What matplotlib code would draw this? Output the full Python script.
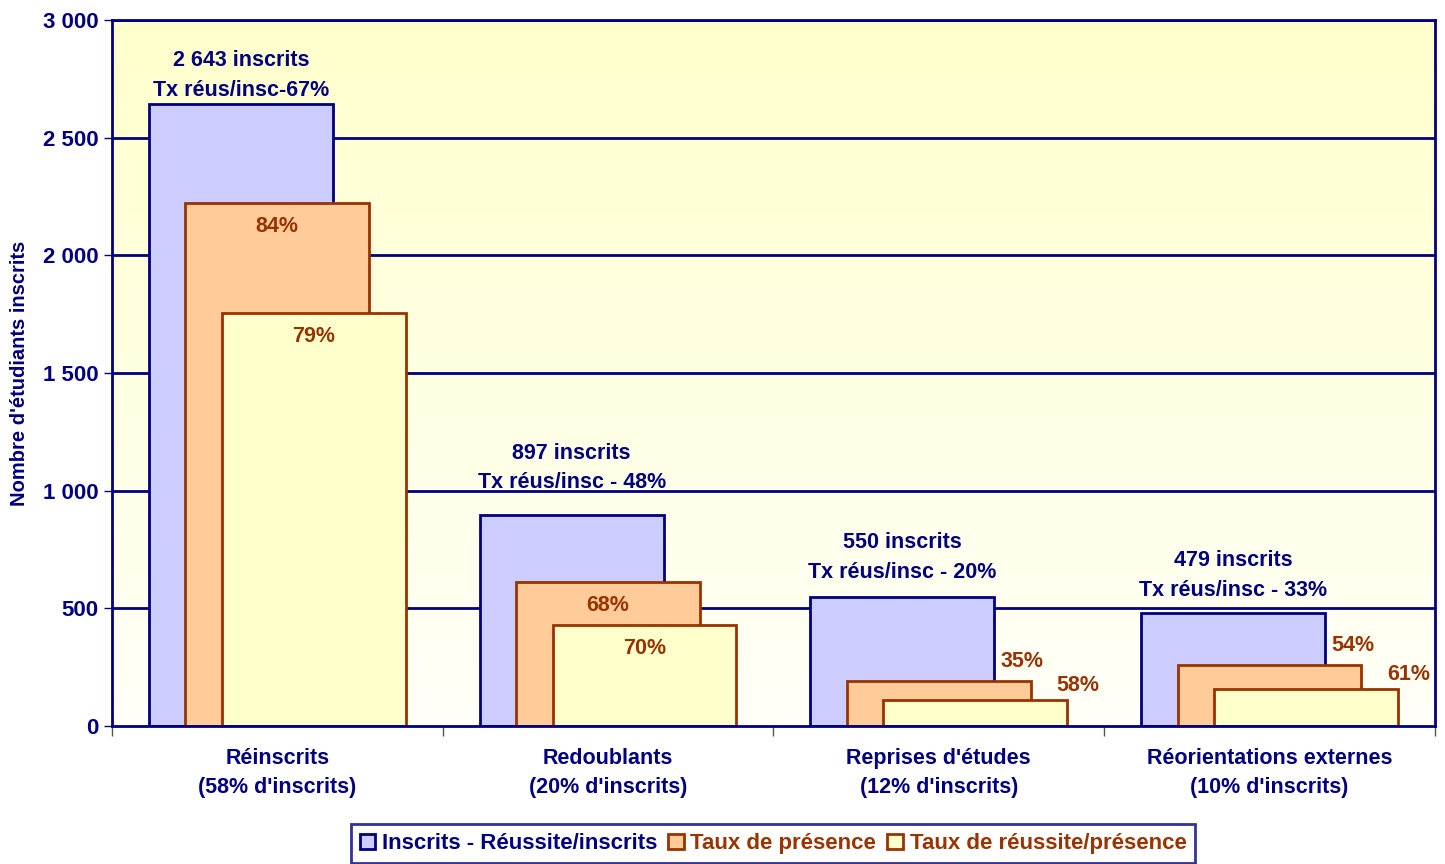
import numpy as np
import matplotlib.pyplot as plt
from matplotlib.patches import Patch

plt.rcParams['font.family'] = ['Liberation Sans', 'DejaVu Sans']
plt.rcParams['font.weight'] = 'bold'

# données
categories = ["Réinscrits\n(58% d'inscrits)", "Redoublants\n(20% d'inscrits)",
              "Reprises d'études\n(12% d'inscrits)", "Réorientations externes\n(10% d'inscrits)"]
inscrits = [2643, 897, 550, 479]
presents = [2221, 612, 193, 259]
reussis = [1755, 428, 112, 158]
tx_reus_insc = ["Tx réus/insc-67%", "Tx réus/insc - 48%", "Tx réus/insc - 20%", "Tx réus/insc - 33%"]
tx_presence = ["84%", "68%", "35%", "54%"]
tx_reus_pres = ["79%", "70%", "58%", "61%"]
yticks = [0, 500, 1000, 1500, 2000, 2500, 3000]
series_names = ["Inscrits - Réussite/inscrits", "Taux de présence", "Taux de réussite/présence"]

NAVY = '#000080'
BROWN = '#993300'
fills = ['#CCCCFF', '#FFCC99', '#FFFFCC']
edges = [NAVY, BROWN, BROWN]
FS = 15.5

fig = plt.figure(figsize=(14.45, 8.64), dpi=100)
ax = fig.add_axes([0.0775, 0.1597, 0.9155, 0.8172])

# fond dégradé jaune
grad = np.linspace(0, 1, 256).reshape(-1, 1)
top = np.array([1.0, 1.0, 0.80])
bot = np.array([1.0, 1.0, 0.975])
img = bot + (top - bot) * grad[:, :, None] * np.ones((1, 2, 1))
ax.imshow(img, extent=[0, 1, 0, 1], transform=ax.transAxes, origin='lower',
          aspect='auto', zorder=0)

x = np.arange(len(categories))
w = 0.556
off = 0.11
ax.set_xlim(-0.5, len(categories) - 0.5)
ax.set_ylim(0, 3000)

for y in yticks[1:]:
    ax.axhline(y, color=NAVY, lw=2, zorder=1)

series = [inscrits, presents, reussis]
for i, vals in enumerate(series):
    ax.bar(x + (i - 1) * off, vals, width=w, color=fills[i], edgecolor=edges[i],
           linewidth=2, zorder=2 + i)

# étiquettes (décalages en points, placées à la main comme dans l'original)
top_pad = [2, 15.5, 10, 9]
outside_off = {1: (-6.5, 14), 2: (8, 10)}
for j in range(len(categories)):
    ax.annotate(f"{inscrits[j]:,}".replace(',', ' ') + " inscrits\n" + tx_reus_insc[j],
                (x[j] - off, inscrits[j]), xytext=(0, top_pad[j]), textcoords='offset points',
                ha='center', va='bottom', color=NAVY, fontsize=FS, fontweight='bold',
                linespacing=1.55, zorder=10)
    for i, (vals, labs) in enumerate([(presents, tx_presence), (reussis, tx_reus_pres)], start=1):
        xc = x[j] + (i - 1) * off
        if vals[j] > 300:
            ax.annotate(labs[j], (xc, vals[j]), xytext=(0, -17), textcoords='offset points',
                        ha='center', va='center', color=BROWN, fontsize=FS,
                        fontweight='bold', zorder=10)
        else:
            ax.annotate(labs[j], (xc + w / 2, vals[j]), xytext=outside_off[i],
                        textcoords='offset points', ha='center', va='center', color=BROWN,
                        fontsize=FS, fontweight='bold', zorder=10)

# axes
for s in ax.spines.values():
    s.set_color(NAVY)
    s.set_linewidth(2)
    s.set_zorder(8)
ax.set_yticks(yticks)
ax.set_yticklabels([f"{v:,}".replace(',', ' ') for v in yticks])
ax.tick_params(axis='y', colors=NAVY, labelsize=16, length=6, width=1, labelcolor=NAVY)
for t in ax.get_yticklabels():
    t.set_fontweight('bold')
ax.set_xticks(x)
ax.set_xticklabels(categories, color=NAVY, fontsize=FS, fontweight='bold', linespacing=1.5)
ax.tick_params(axis='x', length=0, pad=16)
ax.set_xticks(np.arange(-0.5, len(categories)), minor=True)
ax.tick_params(axis='x', which='minor', length=7, width=1, color='#555555')
ax.set_ylabel("Nombre d'étudiants inscrits", color=NAVY, fontsize=14.5, fontweight='bold',
              labelpad=10)

# légende
handles = [Patch(facecolor=fills[i], edgecolor=edges[i], linewidth=2) for i in range(3)]
leg = fig.legend(handles, series_names, loc='upper center', bbox_to_anchor=(0.535, 0.046),
                 ncol=3, frameon=True, fancybox=False, handlelength=0.7,
                 handleheight=0.7, handletextpad=0.3, columnspacing=0.5, borderpad=0.4,
                 borderaxespad=0, prop={'weight': 'bold', 'size': 16})
leg.get_frame().set_edgecolor(NAVY)
leg.get_frame().set_linewidth(2)
for t, c in zip(leg.get_texts(), [NAVY, BROWN, BROWN]):
    t.set_color(c)

fig.savefig('out.png', dpi=100)
